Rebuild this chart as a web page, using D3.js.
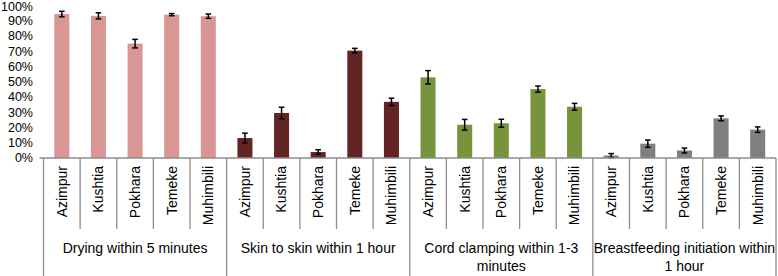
<!DOCTYPE html>
<html lang="en">
<head>
<meta charset="utf-8">
<script src="https://d3js.org/d3.v7.min.js"></script>
<style>
    body { margin: 0; background: #fff; }
    svg { display: block; font-family: "Liberation Sans", Arial, sans-serif; }
</style>
</head>
<body>
<script>
    var w = 778, h = 276;

    // data
    var groups = ["Drying within 5 minutes", "Skin to skin within 1 hour",
                  "Cord clamping within 1-3 minutes", "Breastfeeding initiation within 1 hour"];
    var groupLines = [["Drying within 5 minutes"], ["Skin to skin within 1 hour"],
                      ["Cord clamping within 1-3", "minutes"], ["Breastfeeding initiation within", "1 hour"]];
    var sites = ["Azimpur", "Kushtia", "Pokhara", "Temeke", "Muhimbili"];
    var colors = ["#d99694", "#632523", "#77933c", "#7f7f7f"];

    var drying = [94.4, 93.2, 75.0, 94.0, 93.0];
    var skin = [13.1, 29.5, 3.9, 70.4, 36.8];
    var cord = [52.9, 21.8, 22.8, 45.2, 33.6];
    var breast = [1.6, 9.4, 4.9, 26.0, 18.6];

    var dryingErr = [1.8, 2.0, 2.8, 0.7, 1.4];
    var skinErr = [3.2, 3.8, 1.5, 1.5, 2.4];
    var cordErr = [4.4, 3.5, 2.6, 2.0, 2.2];
    var breastErr = [1.3, 2.4, 1.6, 1.6, 1.8];

    var yTicks = [0, 10, 20, 30, 40, 50, 60, 70, 80, 90, 100];

    var values = [drying, skin, cord, breast];
    var errs = [dryingErr, skinErr, cordErr, breastErr];

    var rows = [];
    values.forEach(function(arr, g) {
        arr.forEach(function(v, i) {
            rows.push({g: g, i: i, site: sites[i], v: v, e: errs[g][i]});
        });
    });

    var x0 = 43.5, x1 = 776, y0 = 158, yTop = 5.5;

    var xScale = d3.scaleBand()
        .domain(d3.range(rows.length))
        .range([x0, x1]);

    var gScale = d3.scaleBand()
        .domain(d3.range(groups.length))
        .range([x0, x1]);

    var yScale = d3.scaleLinear()
        .domain([0, 100])
        .range([y0, yTop]);

    var svg = d3.select("body").append("svg")
        .attr("width", w)
        .attr("height", h);

    var barW = xScale.bandwidth() * 0.41;
    var axisColor = "#8c8c8c";

    // bars
    svg.selectAll("rect.bar")
        .data(rows)
        .enter()
        .append("rect")
        .attr("class", "bar")
        .attr("x", function(d, k) { return xScale(k) + (xScale.bandwidth() - barW) / 2; })
        .attr("y", function(d) { return yScale(d.v); })
        .attr("width", barW)
        .attr("height", function(d) { return y0 - yScale(d.v); })
        .attr("fill", function(d) { return colors[d.g]; });

    // error bars
    var eb = svg.selectAll("g.err")
        .data(rows)
        .enter()
        .append("g")
        .attr("class", "err")
        .attr("stroke", "#000")
        .attr("stroke-width", 1.5);

    function cx(k) { return xScale(k) + xScale.bandwidth() / 2; }

    eb.append("line")
        .attr("x1", function(d, k) { return cx(k); })
        .attr("x2", function(d, k) { return cx(k); })
        .attr("y1", function(d) { return yScale(d.v - d.e); })
        .attr("y2", function(d) { return yScale(d.v + d.e); });
    eb.append("line")
        .attr("x1", function(d, k) { return cx(k) - 2.8; })
        .attr("x2", function(d, k) { return cx(k) + 2.8; })
        .attr("y1", function(d) { return yScale(d.v + d.e); })
        .attr("y2", function(d) { return yScale(d.v + d.e); });
    eb.append("line")
        .attr("x1", function(d, k) { return cx(k) - 2.8; })
        .attr("x2", function(d, k) { return cx(k) + 2.8; })
        .attr("y1", function(d) { return yScale(d.v - d.e); })
        .attr("y2", function(d) { return yScale(d.v - d.e); });

    // y labels (no axis line in the original); keep the top one inside the page
    svg.selectAll("text.ylab")
        .data(yTicks)
        .enter()
        .append("text")
        .attr("class", "ylab")
        .attr("x", 33)
        .attr("y", function(d) { return Math.max(yScale(d), 7); })
        .attr("dy", "0.35em")
        .attr("text-anchor", "end")
        .attr("font-size", 12.5)
        .attr("fill", "#000")
        .text(function(d) { return d + "%"; });

    // x axis line
    svg.append("line")
        .attr("x1", x0 - 4).attr("x2", x1)
        .attr("y1", y0).attr("y2", y0)
        .attr("stroke", axisColor).attr("stroke-width", 1.3);

    // inner tick lines between categories
    svg.selectAll("line.tick")
        .data(d3.range(rows.length + 1).filter(function(k) { return k % 5 !== 0; }))
        .enter()
        .append("line")
        .attr("class", "tick")
        .attr("x1", function(k) { return x0 + k * xScale.step(); })
        .attr("x2", function(k) { return x0 + k * xScale.step(); })
        .attr("y1", y0).attr("y2", 229)
        .attr("stroke", axisColor).attr("stroke-width", 1.3);

    // group separators
    svg.selectAll("line.sep")
        .data(d3.range(groups.length + 1))
        .enter()
        .append("line")
        .attr("class", "sep")
        .attr("x1", function(g) { return x0 + g * gScale.step(); })
        .attr("x2", function(g) { return x0 + g * gScale.step(); })
        .attr("y1", y0).attr("y2", h)
        .attr("stroke", axisColor).attr("stroke-width", 1.3);

    // site labels, rotated
    svg.selectAll("text.site")
        .data(rows)
        .enter()
        .append("text")
        .attr("class", "site")
        .attr("transform", function(d, k) { return "translate(" + cx(k) + ",166) rotate(-90)"; })
        .attr("dy", "0.35em")
        .attr("text-anchor", "end")
        .attr("font-size", 14)
        .attr("fill", "#000")
        .text(function(d) { return d.site; });

    // group labels
    var gl = svg.selectAll("text.group")
        .data(groupLines)
        .enter()
        .append("text")
        .attr("class", "group")
        .attr("x", function(d, g) { return gScale(g) + gScale.bandwidth() / 2; })
        .attr("y", 253)
        .attr("text-anchor", "middle")
        .attr("font-size", 14)
        .attr("fill", "#000");
    gl.selectAll("tspan")
        .data(function(d) { return d; })
        .enter()
        .append("tspan")
        .attr("x", function() { return d3.select(this.parentNode).attr("x"); })
        .attr("dy", function(d, i) { return i === 0 ? 0 : 17.5; })
        .text(function(d) { return d; });
</script>
</body>
</html>
